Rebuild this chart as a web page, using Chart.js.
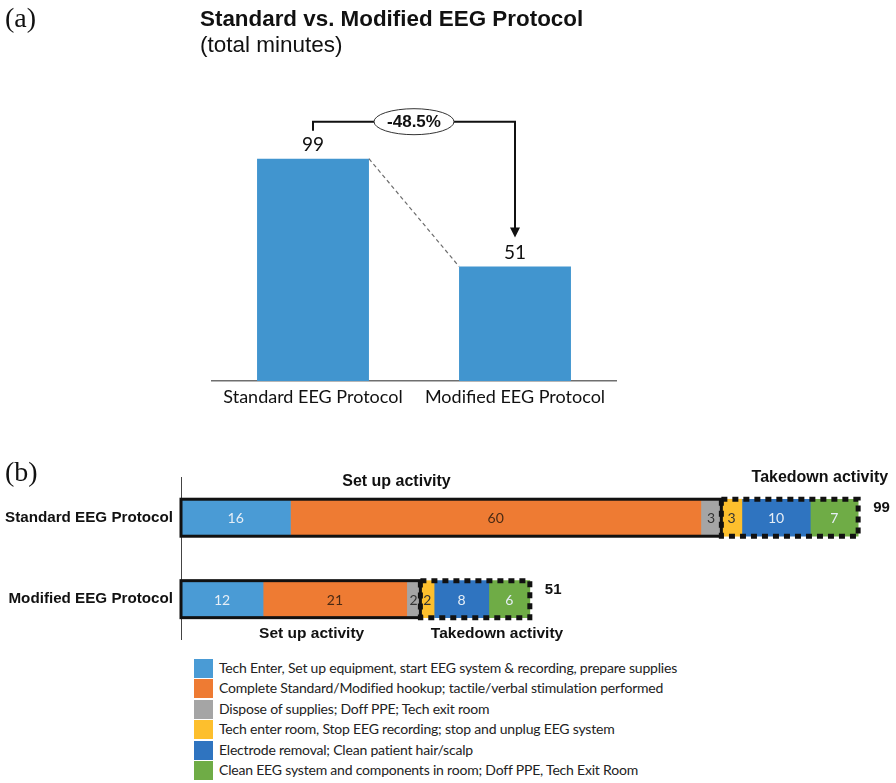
<!DOCTYPE html>
<html>
<head>
<meta charset="utf-8">
<script src="https://cdn.jsdelivr.net/npm/chart.js@4.4.1/dist/chart.umd.min.js"></script>
<style>
body { margin: 0; background: #fff; }
#page { position: relative; width: 896px; height: 783px; overflow: hidden; font-family: "Liberation Sans", Arial, sans-serif; color: #111; }
.abs { position: absolute; white-space: nowrap; }
.panel { font-family: "Liberation Serif", "Times New Roman", serif; font-size: 28px; }
#title { left: 200px; top: 6px; font-weight: bold; font-size: 22.4px; }
#subtitle { left: 200px; top: 32px; font-size: 22.5px; }
#legend { left: 194px; top: 658px; font-family: Lato, sans-serif; font-size: 14px; letter-spacing: -0.2px; color: #222; }
#legend div { height: 20.4px; line-height: 20.4px; }
#legend span { display: inline-block; width: 19px; height: 19px; vertical-align: -5px; margin-right: 6px; }
</style>
</head>
<body>
<div id="page">
  <canvas id="totalCanvas" class="abs" width="896" height="440" style="left:0;top:0"></canvas>
  <canvas id="stepCanvas" class="abs" width="896" height="202" style="left:0;top:455px"></canvas>
  <div class="abs panel" style="left:5px;top:2px">(a)</div>
  <div class="abs panel" style="left:5px;top:456px">(b)</div>
  <div class="abs" id="title">Standard vs. Modified EEG Protocol</div>
  <div class="abs" id="subtitle">(total minutes)</div>
  <div class="abs" id="legend"></div>
</div>
<script>
var protocols = ['Standard EEG Protocol', 'Modified EEG Protocol'];
var totalMinutes = [99, 51];

var stepLabels = [
  'Tech Enter, Set up equipment, start EEG system & recording, prepare supplies',
  'Complete Standard/Modified hookup; tactile/verbal stimulation performed',
  'Dispose of supplies;  Doff  PPE;  Tech exit room',
  'Tech enter room, Stop EEG recording; stop and unplug EEG system',
  'Electrode removal; Clean patient hair/scalp',
  'Clean EEG system and components in room; Doff  PPE, Tech  Exit Room'
];
var standardSteps = [16, 60, 3, 3, 10, 7];
var modifiedSteps = [12, 21, 2, 2, 8, 6];
var setupCount = 3; // first three steps are set up, the rest takedown

var stepColors = ['#4a9bd5', '#ee7b33', '#a5a5a5', '#fdbf2d', '#2f74c0', '#6fac46'];
var stepTextColors = ['#e6eef6', '#4a2a14', '#333333', '#333333', '#e6eef6', '#e6eef6'];

// ---- panel (a) ----
var totalsDecor = {
  id: 'totalsDecor',
  afterDatasetsDraw: function(chart) {
    var ctx = chart.ctx;
    var bars = chart.getDatasetMeta(0).data;
    var b0 = bars[0], b1 = bars[1];
    ctx.save();
    // dashed connector between bar tops
    ctx.strokeStyle = '#6d6d6d';
    ctx.lineWidth = 1.2;
    ctx.setLineDash([4, 3]);
    ctx.beginPath();
    ctx.moveTo(b0.x + b0.width / 2, b0.y);
    ctx.lineTo(b1.x - b1.width / 2, b1.y);
    ctx.stroke();
    ctx.setLineDash([]);

    ctx.fillStyle = '#111';
    ctx.font = '19px Lato';
    ctx.textAlign = 'center';
    ctx.textBaseline = 'middle';
    bars.forEach(function(b, i) { ctx.fillText(totalMinutes[i], b.x, b.y - 14); });

    // bracket with arrow
    var top = b0.y - 37;
    var tip = b1.y - 29;
    ctx.strokeStyle = '#111';
    ctx.lineWidth = 2;
    ctx.beginPath();
    ctx.moveTo(b0.x, b0.y - 28);
    ctx.lineTo(b0.x, top);
    ctx.lineTo(b1.x, top);
    ctx.lineTo(b1.x, tip - 8);
    ctx.stroke();
    ctx.beginPath();
    ctx.moveTo(b1.x - 5, tip - 10);
    ctx.lineTo(b1.x + 5, tip - 10);
    ctx.lineTo(b1.x, tip);
    ctx.closePath();
    ctx.fill();

    var cx = (b0.x + b1.x) / 2;
    ctx.beginPath();
    ctx.ellipse(cx, top, 40, 13, 0, 0, Math.PI * 2);
    ctx.fillStyle = '#fff';
    ctx.fill();
    ctx.lineWidth = 1;
    ctx.strokeStyle = '#333';
    ctx.stroke();
    var change = (totalMinutes[1] - totalMinutes[0]) / totalMinutes[0] * 100;
    ctx.fillStyle = '#111';
    ctx.font = 'bold 17px "Liberation Sans"';
    ctx.fillText(change.toFixed(1) + '%', cx, top + 1);
    ctx.restore();
  }
};

new Chart(document.getElementById('totalCanvas'), {
  type: 'bar',
  data: {
    labels: protocols,
    datasets: [{ data: totalMinutes, backgroundColor: '#4195cf', categoryPercentage: 1, barPercentage: 0.554 }]
  },
  options: {
    responsive: false,
    animation: false,
    layout: { padding: { left: 212, right: 280, top: 134, bottom: 29 } },
    plugins: { legend: { display: false }, tooltip: { enabled: false } },
    scales: {
      x: {
        grid: { display: false },
        border: { display: true, color: '#6f6f6f', width: 1.5 },
        ticks: { color: '#111', font: { family: 'Lato', size: 18 }, padding: -3 },
        afterFit: function(s) { s.height = 30; }
      },
      y: { display: false, min: 0, max: 110 }
    }
  },
  plugins: [totalsDecor]
});

// ---- panel (b) ----
var phaseNotes = [
  { text: 'Set up activity', row: 0, at: 31.5, dy: -18, size: 16 },
  { text: 'Takedown activity', row: 0, at: 93.4, dy: -22, size: 16 },
  { text: 'Set up activity', row: 1, at: 19.1, dy: 16, size: 15.5 },
  { text: 'Takedown activity', row: 1, at: 46.2, dy: 16, size: 15.5 }
];

var phaseDecor = {
  id: 'phaseDecor',
  afterDatasetsDraw: function(chart) {
    var ctx = chart.ctx;
    var x = chart.scales.x;
    var metas = chart.data.datasets.map(function(d, i) { return chart.getDatasetMeta(i); });
    ctx.save();
    ctx.textAlign = 'center';
    ctx.textBaseline = 'middle';
    ctx.font = '14px Lato';
    metas.forEach(function(m, i) {
      m.data.forEach(function(el, row) {
        var p = el.getProps(['x', 'y', 'base'], true);
        ctx.fillStyle = stepTextColors[i];
        ctx.fillText(chart.data.datasets[i].data[row], (p.x + p.base) / 2, p.y + 1);
      });
    });

    protocols.forEach(function(name, row) {
      var first = metas[0].data[row].getProps(['x', 'y', 'base', 'height'], true);
      var setupEnd = metas[setupCount - 1].data[row].getProps(['x'], true);
      var takeStart = metas[setupCount].data[row].getProps(['base'], true);
      var last = metas[metas.length - 1].data[row].getProps(['x'], true);
      var top = first.y - first.height / 2, h = first.height;

      ctx.strokeStyle = '#111';
      ctx.lineWidth = 5;
      ctx.setLineDash([6, 5]);
      ctx.strokeRect(takeStart.base, top, last.x - takeStart.base, h);
      ctx.setLineDash([]);
      ctx.lineWidth = 3;
      ctx.strokeRect(first.base, top, setupEnd.x - first.base, h);

      var sum = chart.data.datasets.reduce(function(a, d) { return a + d.data[row]; }, 0);
      ctx.fillStyle = '#111';
      ctx.font = 'bold 15px "Liberation Sans"';
      ctx.textAlign = 'left';
      ctx.fillText(sum, last.x + 15, top + 9);
      ctx.textAlign = 'center';
    });

    phaseNotes.forEach(function(n) {
      var el = metas[0].data[n.row].getProps(['y', 'height'], true);
      var y = n.dy < 0 ? el.y - el.height / 2 + n.dy : el.y + el.height / 2 + n.dy;
      ctx.font = 'bold ' + n.size + 'px "Liberation Sans"';
      ctx.fillStyle = '#111';
      ctx.fillText(n.text, x.getPixelForValue(n.at), y);
    });
    ctx.restore();
  }
};

new Chart(document.getElementById('stepCanvas'), {
  type: 'bar',
  data: {
    labels: protocols,
    datasets: stepLabels.map(function(lab, i) {
      return { label: lab, data: [standardSteps[i], modifiedSteps[i]], backgroundColor: stepColors[i], barThickness: 37 };
    })
  },
  options: {
    indexAxis: 'y',
    responsive: false,
    animation: false,
    layout: { padding: { left: 0, right: 31, top: 22, bottom: 2 } },
    plugins: { legend: { display: false }, tooltip: { enabled: false } },
    scales: {
      x: { stacked: true, display: false, min: 0, max: 100 },
      y: {
        stacked: true,
        grid: { display: false, drawTicks: false },
        border: { display: true, color: '#444', width: 1 },
        ticks: { color: '#111', font: { family: 'Liberation Sans', size: 15.2, weight: 'bold' }, padding: 8 },
        afterFit: function(s) { s.width = 181; }
      }
    }
  },
  plugins: [phaseDecor]
});

// legend
var legend = document.getElementById('legend');
stepLabels.forEach(function(lab, i) {
  var row = document.createElement('div');
  var box = document.createElement('span');
  box.style.background = stepColors[i];
  row.appendChild(box);
  row.appendChild(document.createTextNode(lab));
  legend.appendChild(row);
});
</script>
</body>
</html>
